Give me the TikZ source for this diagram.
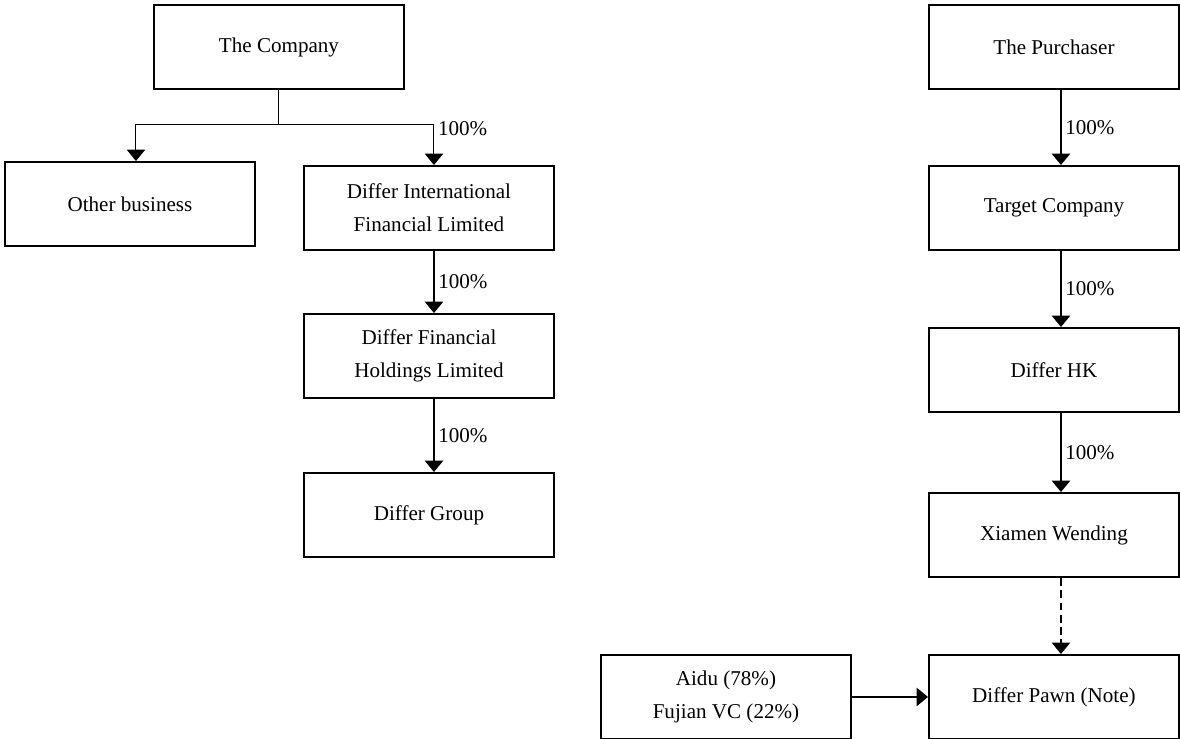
\documentclass[tikz,border=0pt]{standalone}
\usepackage{fontspec}
\setmainfont{Liberation Serif}
\usepackage{tikz}
\usetikzlibrary{calc,arrows.meta,positioning}

\begin{document}
\begin{tikzpicture}[
  entity/.style={
    rectangle,
    draw=black,
    line width=1.1pt,
    minimum width=5cm,
    minimum height=1.68cm,
    align=center,
    font=\fontsize{12}{19}\selectfont
  },
  owns/.style={
    line width=0.9pt,
    -{Triangle[width=10.5pt, length=6.5pt]}
  },
  branch/.style={
    line width=0.6pt
  },
  pctlabel/.style={
    anchor=west,
    inner sep=2pt,
    font=\fontsize{12}{14}\selectfont
  }
  ]
  \useasboundingbox (0,0) rectangle (23.6,-14.78);

  % the company side
  \begin{scope}
    \node[anchor=north west, entity] (company) at (3.06, -0.08) {The Company};
    \node[anchor=north west, entity] (other) at (0.08, -3.22) {Other business};
    \node[anchor=north west, entity] (intl) at (6.06, -3.30) {Differ International\\Financial Limited};
    \node[anchor=north west, entity] (holdings) at (6.06, -6.26) {Differ Financial\\Holdings Limited};
    \node[anchor=north west, entity] (group) at (6.06, -9.44) {Differ Group};
  \end{scope}

  % the purchaser side
  \begin{scope}
    \node[anchor=north west, entity] (purchaser) at (18.56, -0.08) {The Purchaser};
    \node[anchor=north west, entity] (target) at (18.56, -3.30) {Target Company};
    \node[anchor=north west, entity] (hk) at (18.56, -6.54) {Differ HK};
    \node[anchor=north west, entity] (xiamen) at (18.56, -9.84) {Xiamen Wending};
    \node[anchor=north west, entity] (pawn) at (18.56, -13.08) {Differ Pawn (Note)};
    \node[anchor=north west, entity] (aidu) at (12.0, -13.08) {Aidu (78\%)\\Fujian VC (22\%)};
  \end{scope}

  % split below the company
  \coordinate (split) at ($(company.south)+(0,-0.7)$);
  \draw[branch] (company.south) -- (split);
  \draw[branch, -{Triangle[width=10.5pt, length=6.5pt]}] (split) -| ([xshift=.12cm]other.north);
  \draw[branch, -{Triangle[width=10.5pt, length=6.5pt]}] (split) -| ([xshift=.1cm]intl.north)
    node[pctlabel, pos=0.5, yshift=-0.08cm] {100\%};

  \draw[owns] ([xshift=.1cm]intl.south) -- ([xshift=.1cm]holdings.north) node[pctlabel, midway] {100\%};
  \draw[owns] ([xshift=.1cm]holdings.south) -- ([xshift=.1cm]group.north) node[pctlabel, midway] {100\%};

  \draw[owns] ([xshift=.14cm]purchaser.south) -- ([xshift=.14cm]target.north) node[pctlabel, midway] {100\%};
  \draw[owns] ([xshift=.14cm]target.south) -- ([xshift=.14cm]hk.north) node[pctlabel, midway] {100\%};
  \draw[owns] ([xshift=.14cm]hk.south) -- ([xshift=.14cm]xiamen.north) node[pctlabel, midway] {100\%};
  \draw[owns, dash pattern=on 4.5pt off 2.5pt] ([xshift=.14cm]xiamen.south) -- ([xshift=.14cm]pawn.north);

  \draw[owns] (aidu.east) -- (pawn.west);

\end{tikzpicture}
\end{document}
